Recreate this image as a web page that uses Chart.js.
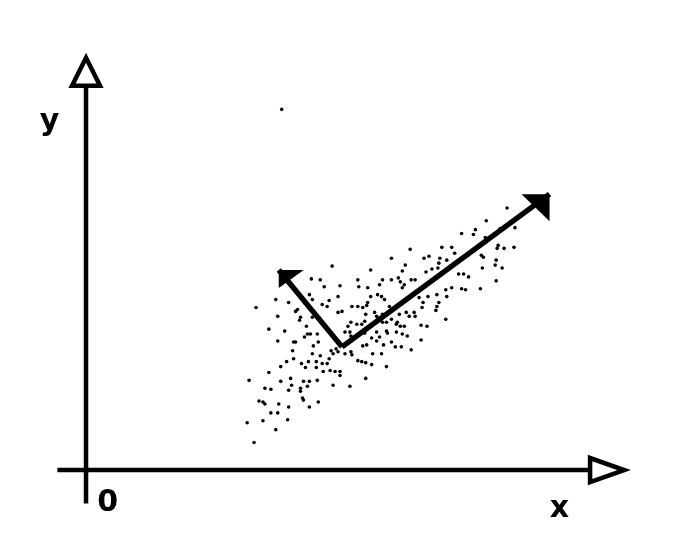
<!DOCTYPE html>
<html>
<head>
<meta charset="utf-8">
<script src="https://cdn.jsdelivr.net/npm/chart.js@4"></script>
<style>
  html, body { margin: 0; padding: 0; background: #fff; }
  canvas { display: block; }
</style>
</head>
<body>
<canvas id="pca" width="685" height="543"></canvas>
<script>
// data cloud (origin = where the axes cross)
const cloud = [
  [426,266],[405,253],[394,244],[392,239],[380,240],[404,236],[404,231],[417,228],[423,225],[433,226],
  [416,225],[424,246],[419,245],[434,246],[328,224],[309,215],[342,215],[347,217],[360,226],[370,226],
  [373,220],[358,215],[365,213],[357,210],[380,215],[392,222],[400,218],[402,216],[415,213],[414,208],
  [421,205],[401,205],[323,208],[320,202],[288,203],[249,207],[344,201],[350,204],[356,205],[369,207],
  [377,199],[382,199],[387,196],[415,192],[399,184],[384,183],[380,184],[370,185],[364,183],[355,178],
  [365,176],[357,170],[355,166],[354,162],[341,170],[346,176],[337,175],[340,165],[329,193],[333,193],
  [316,195],[318,191],[322,188],[320,185],[309,193],[300,193],[297,188],[285,185],[275,193],[276,186],
  [257,187],[237,193],[228,194],[241,186],[226,178],[229,173],[239,168],[244,166],[246,172],[255,176],
  [255,160],[259,161],[269,166],[275,166],[280,165],[284,167],[285,170],[295,178],[299,176],[302,173],
  [288,176],[292,160],[294,156],[300,158],[307,166],[313,165],[317,158],[324,160],[327,156],[332,160],
  [333,156],[300,150],[304,150],[309,153],[315,150],[304,141],[305,139],[314,148],[318,146],[322,146],
  [325,136],[339,147],[345,146],[314,140],[320,138],[294,140],[289,134],[294,131],[297,135],[301,127],
  [309,130],[313,125],[319,125],[329,122],[339,132],[364,153],[283,158],[282,151],[279,148],[274,148],
  [268,150],[265,146],[262,140],[267,140],[268,136],[278,138],[282,139],[284,127],[280,126],[290,118],
  [299,118],[275,111],[279,110],[283,109],[289,107],[304,105],[268,120],[269,117],[262,118],[255,120],
  [253,123],[248,121],[250,118],[246,113],[244,108],[239,108],[233,110],[237,116],[229,118],[230,126],
  [235,130],[234,138],[227,138],[224,138],[223,146],[221,135],[212,130],[210,130],[209,121],[201,141],
  [194,131],[194,156],[185,143],[192,173],[205,170],[214,163],[212,161],[217,155],[216,152],[229,155],
  [237,151],[172,165],[210,113],[218,108],[225,110],[222,104],[233,104],[240,100],[247,101],[252,100],
  [257,100],[257,96],[250,86],[267,85],[283,93],[234,91],[226,90],[224,85],[220,90],[217,83],
  [217,80],[219,73],[220,71],[208,86],[205,81],[207,93],[197,90],[197,105],[203,110],[185,99],
  [181,83],[187,82],[165,91],[175,70],[179,69],[181,67],[195,67],[205,64],[235,69],[226,64],
  [187,58],[194,58],[179,50],[204,51],[163,48],[192,41],[170,28],[198,366]
];

// principal directions: start (mean) and tips
const pcOrigin = [259, 125];
const pc1Tip = [469, 280];
const pc2Tip = [195, 203];

// axis lines, end = base of the hollow arrowhead
const xAxisEnds = [-29, 510];
const yAxisEnds = [-34, 390];

const labels = [
  { text: 'y', x: -37, y: 345 },
  { text: '0', x: 22, y: -42 },
  { text: 'x', x: 479, y: -48 }
];

const pt = a => ({ x: a[0], y: a[1] });

const arrowHeads = {
  id: 'arrowHeads',
  afterDatasetsDraw(chart) {
    const ctx = chart.ctx;
    chart.data.datasets.forEach((ds, i) => {
      if (!ds.head) return;
      const pts = chart.getDatasetMeta(i).data;
      const a = pts[pts.length - 2], b = pts[pts.length - 1];
      const dx = b.x - a.x, dy = b.y - a.y;
      const len = Math.hypot(dx, dy);
      const ux = dx / len, uy = dy / len;
      ctx.save();
      ctx.beginPath();
      if (ds.head.type === 'hollow') {
        const L = ds.head.length, w = ds.head.half;
        ctx.moveTo(b.x + ux * L, b.y + uy * L);
        ctx.lineTo(b.x - uy * w, b.y + ux * w);
        ctx.lineTo(b.x + uy * w, b.y - ux * w);
        ctx.closePath();
        ctx.fillStyle = '#fff';
        ctx.fill();
        ctx.lineWidth = ds.borderWidth;
        ctx.lineJoin = 'miter';
        ctx.strokeStyle = '#000';
        ctx.stroke();
      } else {
        const sx = Math.sign(dx), sy = Math.sign(dy);
        ctx.moveTo(b.x, b.y);
        ctx.lineTo(b.x - sx * ds.head.lx, b.y);
        ctx.lineTo(b.x, b.y - sy * ds.head.ly);
        ctx.closePath();
        ctx.fillStyle = '#000';
        ctx.fill();
      }
      ctx.restore();
    });
  },
  afterDraw(chart) {
    const ctx = chart.ctx;
    const xs = chart.scales.x, ys = chart.scales.y;
    ctx.save();
    ctx.fillStyle = '#000';
    ctx.font = 'bold 30px "DejaVu Sans"';
    ctx.textAlign = 'center';
    ctx.textBaseline = 'alphabetic';
    labels.forEach(l => ctx.fillText(l.text, xs.getPixelForValue(l.x), ys.getPixelForValue(l.y)));
    ctx.restore();
  }
};

const line = (data, width, head) => ({
  type: 'line', data, borderColor: '#000', borderWidth: width, pointRadius: 0,
  fill: false, tension: 0, borderCapStyle: 'butt', head
});

new Chart(document.getElementById('pca'), {
  type: 'scatter',
  data: {
    datasets: [
      { data: cloud.map(pt), pointRadius: 1.8, pointBackgroundColor: '#000', pointBorderWidth: 0, showLine: false },
      line([pt([xAxisEnds[0], 0]), pt([xAxisEnds[1], 0])], 4.5, { type: 'hollow', length: 34, half: 12 }),
      line([pt([0, yAxisEnds[0]]), pt([0, yAxisEnds[1]])], 4.5, { type: 'hollow', length: 28, half: 14 }),
      line([pt(pcOrigin), pt(pc1Tip)], 5.5, { type: 'solid', lx: 28, ly: 27 }),
      line([pt(pcOrigin), pt(pc2Tip)], 5.5, { type: 'solid', lx: 25, ly: 18 })
    ]
  },
  options: {
    responsive: false,
    animation: false,
    layout: { padding: 0 },
    plugins: { legend: { display: false }, tooltip: { enabled: false } },
    scales: {
      x: { type: 'linear', min: -83, max: 602, display: false },
      y: { type: 'linear', min: -70, max: 473, display: false }
    }
  },
  plugins: [arrowHeads]
});
</script>
</body>
</html>
